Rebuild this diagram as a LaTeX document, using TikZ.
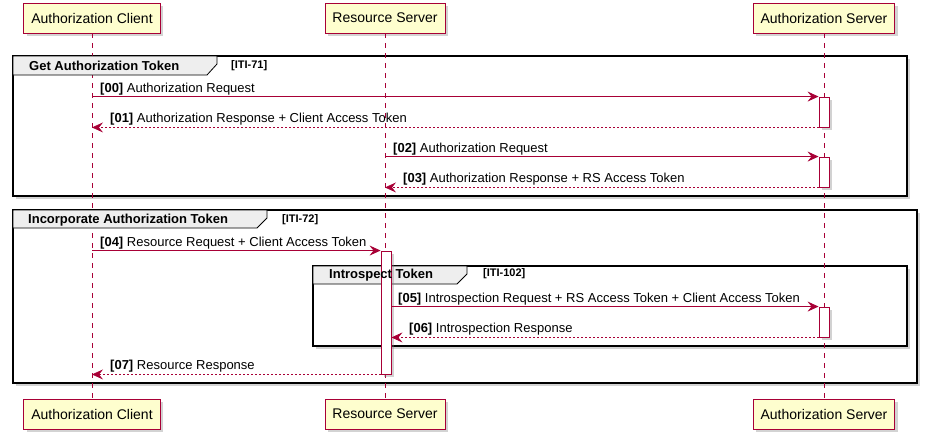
\documentclass[tikz,border=0pt]{standalone}
\usepackage{fontspec}
\setmainfont{Liberation Sans}
\usetikzlibrary{arrows.meta,shadows}
\definecolor{umlred}{HTML}{A80036}
\definecolor{umlbox}{HTML}{FEFECE}
\definecolor{umltab}{HTML}{EEEEEE}
\tikzset{
	umlshadow/.style={drop shadow={shadow xshift=3pt, shadow yshift=-3pt, opacity=0.35}},
	actor/.style={draw=umlred, fill=umlbox, line width=0.9pt, minimum height=30pt, inner xsep=7.5pt, font=\fontsize{14}{16}\selectfont, umlshadow},
	lifeline/.style={draw=umlred, line width=0.7pt, dash pattern=on 5pt off 5pt},
	activation/.style={draw=umlred, fill=white, line width=0.9pt, minimum width=10pt, inner sep=0pt, umlshadow},
	msg/.style={draw=umlred, line width=0.8pt, -{Stealth[length=11pt, width=10pt, inset=4pt]}},
	reply/.style={msg, dash pattern=on 2pt off 2pt},
	msglabel/.style={anchor=base west, inner sep=0pt, font=\fontsize{13}{15}\selectfont},
	frame/.style={draw=black, fill=white, line width=1.8pt, umlshadow},
	tab/.style={draw=black, fill=umltab, line width=0.8pt},
	grouptitle/.style={anchor=west, inner sep=0pt, font=\bfseries\fontsize{13}{15}\selectfont},
	groupref/.style={anchor=west, inner sep=0pt, font=\bfseries\fontsize{11}{13}\selectfont}
}

\begin{document}
\begin{tikzpicture}[x=1pt, y=-1pt]
		\useasboundingbox (0, 0) rectangle (927, 440);
		
		%%%%% GROUPS %%%%%
		\draw[frame] (13, 56) rectangle (907, 196);
		\draw[frame] (13, 210) rectangle (917, 383);
		\draw[frame] (313, 266) rectangle (907, 346);
		
		%%%%% PARTICIPANTS %%%%%
		\node[actor] (acT) at (92, 18) {Authorization Client};
		\node[actor] (rsT) at (385, 18) {Resource Server};
		\node[actor] (asT) at (824, 18) {Authorization Server};
		\node[actor] (acB) at (92, 414) {Authorization Client};
		\node[actor] (rsB) at (385, 414) {Resource Server};
		\node[actor] (asB) at (824, 414) {Authorization Server};
		
		\draw[lifeline] (acT) -- (acB);
		\draw[lifeline] (rsT) -- (rsB);
		\draw[lifeline] (asT) -- (asB);
		
		%%%%% GROUP TABS %%%%%
		\draw[tab] (13, 56) -- (217, 56) -- (217, 64) -- (207, 75) -- (13, 75) -- cycle;
		\draw[tab] (13, 210) -- (267, 210) -- (267, 218) -- (257, 228) -- (13, 228) -- cycle;
		\draw[tab] (313, 266) -- (467, 266) -- (467, 274) -- (457, 284) -- (313, 284) -- cycle;
		
		%%%%% ACTIVATIONS %%%%%
		\node[activation, minimum height=30pt] (as1) at (824, 112) {};
		\node[activation, minimum height=30pt] (as2) at (824, 172) {};
		\node[activation, minimum height=123pt] (rs1) at (386, 312.5) {};
		\node[activation, minimum height=30pt] (as3) at (824, 322) {};
		
		\node[grouptitle] (g1) at (29, 66) {Get Authorization Token};
		\node[groupref] (g1ref) at (231, 66) {[ITI-71]};
		\node[grouptitle] (g2) at (28, 220) {Incorporate Authorization Token};
		\node[groupref] (g2ref) at (282, 220) {[ITI-72]};
		\node[grouptitle] (g3) at (329, 275) {Introspect Token};
		\node[groupref] (g3ref) at (483, 274) {[ITI-102]};
		
		%%%%% MESSAGES %%%%%
		\draw[msg] (acT |- as1.north west) -- (as1.north west);
		\node[msglabel] (l00) at (100, 92) {\textbf{[00]} Authorization Request};
		\draw[reply] (as1.south west) -- (acT |- as1.south west);
		\node[msglabel] (l01) at (110, 122) {\textbf{[01]} Authorization Response + Client Access Token};
		
		\draw[msg] (rsT |- as2.north west) -- (as2.north west);
		\node[msglabel] (l02) at (393, 152) {\textbf{[02]} Authorization Request};
		\draw[reply] (as2.south west) -- (rsT |- as2.south west);
		\node[msglabel] (l03) at (403, 182) {\textbf{[03]} Authorization Response + RS Access Token};
		
		\draw[msg] (acT |- rs1.north west) -- (rs1.north west);
		\node[msglabel] (l04) at (100, 246) {\textbf{[04]} Resource Request + Client Access Token};
		
		\draw[msg] (rs1.east |- as3.north west) -- (as3.north west);
		\node[msglabel] (l05) at (398, 302) {\textbf{[05]} Introspection Request + RS Access Token + Client Access Token};
		\draw[reply] (as3.south west) -- (rs1.east |- as3.south west);
		\node[msglabel] (l06) at (409, 332) {\textbf{[06]} Introspection Response};
		
		\draw[reply] (rs1.south west) -- (acT |- rs1.south west);
		\node[msglabel] (l07) at (110, 369) {\textbf{[07]} Resource Response};
	\end{tikzpicture}
\end{document}
